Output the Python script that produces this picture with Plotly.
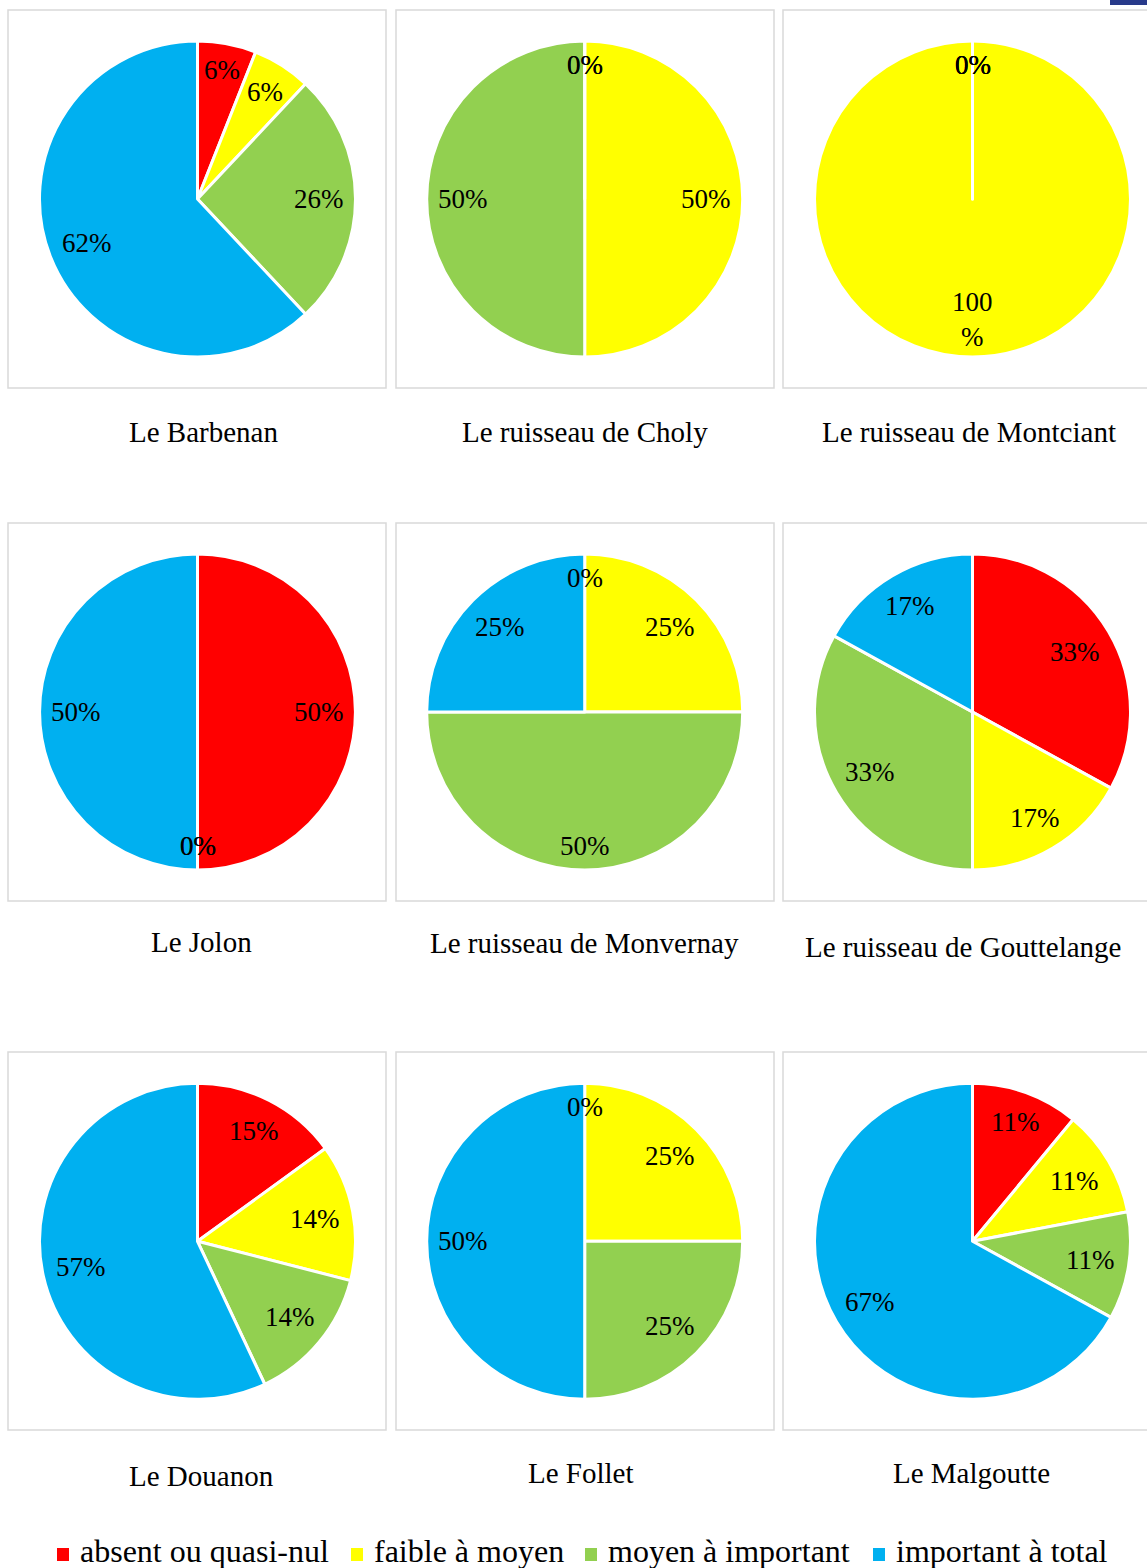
import math
import plotly.graph_objects as go

W, H = 1147, 1568

# ---------------- data ----------------
categories = ["absent ou quasi-nul", "faible à moyen", "moyen à important", "important à total"]
colors = ["#FF0000", "#FFFF00", "#92D050", "#00B0F0"]

rivers = ["Le Barbenan", "Le ruisseau de Choly", "Le ruisseau de Montciant",
          "Le Jolon", "Le ruisseau de Monvernay", "Le ruisseau de Gouttelange",
          "Le Douanon", "Le Follet", "Le Malgoutte"]

barbenan = [6, 6, 26, 62]
choly = [0, 50, 50, 0]
montciant = [0, 100, 0, 0]
jolon = [50, 0, 0, 50]
monvernay = [0, 25, 50, 25]
gouttelange = [33, 17, 33, 17]
douanon = [15, 14, 14, 57]
follet = [0, 25, 25, 50]
malgoutte = [11, 11, 11, 67]

series = [barbenan, choly, montciant, jolon, monvernay, gouttelange, douanon, follet, malgoutte]

# ---------------- layout ----------------
FONT = "Liberation Serif, Times New Roman, serif"
col_cx = [197.5, 584.7, 972.5]
row_cy = [199, 712, 1241.3]
R = 158
box_x = [(8, 386), (396, 774), (783, 1170)]
box_y = [(10, 388), (523, 901), (1052, 1430)]
title_xy = [(203.5, 432), (584.5, 432), (969, 432),
            (201.5, 942), (584.5, 943), (963, 947),
            (201, 1476), (581, 1473), (971, 1473)]
LABEL_SIZE = 27
TITLE_SIZE = 29
LEGEND_SIZE = 32


def px(x):
    return x / W


def py(y):
    return 1 - y / H


fig = go.Figure()
shapes = []
annotations = []

for i, vals in enumerate(series):
    r, c = divmod(i, 3)
    cx, cy = col_cx[c], row_cy[r]
    x0, x1 = box_x[c]
    y0, y1 = box_y[r]
    shapes.append(dict(type="rect", xref="paper", yref="paper",
                       x0=px(x0), x1=px(x1), y0=py(y1), y1=py(y0),
                       line=dict(color="#D9D9D9", width=1.5), fillcolor="rgba(0,0,0,0)",
                       layer="below"))
    fig.add_trace(go.Pie(
        labels=categories, values=vals, sort=False, direction="clockwise", rotation=0,
        marker=dict(colors=colors, line=dict(color="white", width=3)),
        textinfo="none", hoverinfo="label+percent", showlegend=False,
        domain=dict(x=[px(cx - R), px(cx + R)], y=[py(cy + R), py(cy - R)]),
    ))
    # data labels (Excel-like "best fit" inside placement)
    total = float(sum(vals))
    cum = 0.0
    for v in vals:
        frac = v / total
        mid = (cum + frac / 2) * 2 * math.pi
        cum += frac
        pct = round(v / total * 100)
        if pct >= 100:
            txt = f"{pct}<br>%"
            w, h = 1.5 * LABEL_SIZE, 2 * LABEL_SIZE * 0.95
        else:
            txt = f"{pct}%"
            w, h = (0.5 * len(str(pct)) + 0.833) * LABEL_SIZE, 24
        s, co = math.sin(mid), math.cos(mid)
        d = 0.925 * R - (abs(s) * w / 2 + abs(co) * h / 2)
        lx, ly = cx + d * s, cy - d * co
        annotations.append(dict(x=px(lx), y=py(ly), xref="paper", yref="paper",
                                text=txt, showarrow=False, xanchor="center", yanchor="middle",
                                font=dict(family=FONT, size=LABEL_SIZE, color="black")))
    tx, ty = title_xy[i]
    annotations.append(dict(x=px(tx), y=py(ty), xref="paper", yref="paper",
                            text=rivers[i], showarrow=False, xanchor="center", yanchor="middle",
                            font=dict(family=FONT, size=TITLE_SIZE, color="black")))

# custom legend
legend_sq_x = [57, 351, 585, 873]
for k, cat in enumerate(categories):
    sx = legend_sq_x[k]
    shapes.append(dict(type="rect", xref="paper", yref="paper",
                       x0=px(sx), x1=px(sx + 12), y0=py(1561), y1=py(1548),
                       line=dict(width=0), fillcolor=colors[k]))
    annotations.append(dict(x=px(sx + 21), y=py(1551), xref="paper", yref="paper",
                            text=cat, showarrow=False, xanchor="left", yanchor="middle",
                            font=dict(family=FONT, size=LEGEND_SIZE, color="black")))

# small dark-blue mark at the top-right corner
shapes.append(dict(type="rect", xref="paper", yref="paper",
                   x0=px(1110), x1=1, y0=py(5), y1=1,
                   line=dict(width=0), fillcolor="#283A8A"))

fig.update_layout(
    width=W, height=H,
    margin=dict(l=0, r=0, t=0, b=0, pad=0),
    paper_bgcolor="white", plot_bgcolor="white",
    shapes=shapes, annotations=annotations,
    showlegend=False,
)

fig.write_html("out.html",
               config={"displayModeBar": False},
               post_script="document.body.style.margin='0';document.body.style.overflow='hidden';")
